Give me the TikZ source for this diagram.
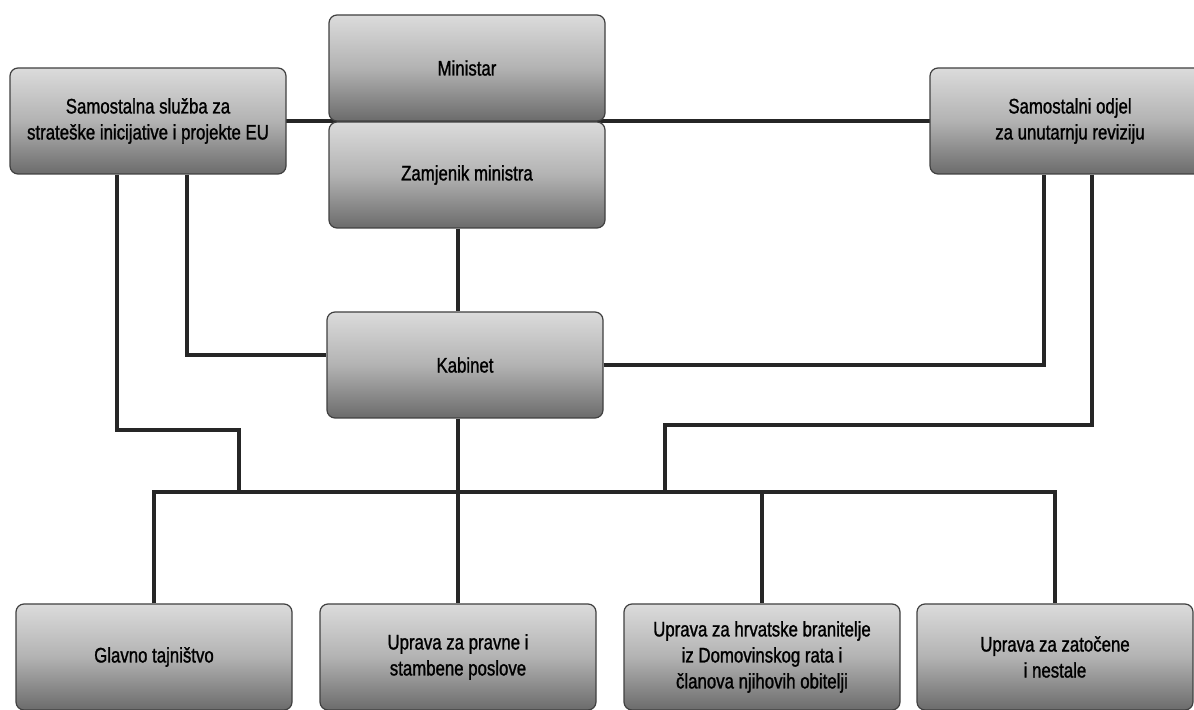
\documentclass[tikz,border=0pt]{standalone}
\usepackage{fontspec}
\setmainfont{Liberation Sans}[FakeStretch=0.8,FakeBold=1.2]
\begin{document}
\begin{tikzpicture}[ x=0.5pt, y=-0.5pt,
      box/.style={draw=black!75,line width=0.6pt,rounded corners=4pt,
        top color=black!14,bottom color=black!58,middle color=black!30,
        minimum width=138pt,minimum height=53pt,align=center,
        font=\fontsize{10.5}{13}\selectfont},
      link/.style={line width=2pt,draw=black!85} ]
      \useasboundingbox (0,0) rectangle (1194,710);
      \clip (0,0) rectangle (1194,710);

      % bends
      \coordinate (bus) at (0,492);
      \coordinate (k1) at (239,430);
      \coordinate (k2) at (665,425);

      % lines under the boxes
      \draw [link] (148,121) -- (1070,121);

      % boxes
      \node[box] (sam) at (148,121) {Samostalna služba za\\strateške inicijative i projekte EU};
      \node[box] (min) at (467,68) {Ministar};
      \node[box] (zam) at (467,175) {Zamjenik ministra};
      \node[box,minimum width=140pt] (odj) at (1070,121) {Samostalni odjel\\za unutarnju reviziju};
      \node[box] (kab) at (465,365) {Kabinet};

      \node[box] (gla) at (154,657) {Glavno tajništvo};
      \node[box] (pra) at (458,657) {Uprava za pravne i\\stambene poslove};
      \node[box] (hrv) at (762,657) {Uprava za hrvatske branitelje\\iz Domovinskog rata i\\članova njihovih obitelji};
      \node[box] (zat) at (1055,657) {Uprava za zatočene\\i nestale};

      % lines
      \draw [link] (zam.south -| pra.north) -- (kab.north -| pra.north);
      \draw [link] (kab.south -| pra.north) -- (pra.north);
      \draw [link] (gla.north) -- (gla.north |- bus) -- (zat.north |- bus) -- (zat.north);
      \draw [link] (hrv.north |- bus) -- (hrv.north);

      \draw [link] ([xshift=54pt]sam.south west) |- (k1) -- (k1 |- bus);
      \draw [link] ([xshift=89pt]sam.south west) |- ([yshift=5pt]kab.west);

      \draw [link] (kab.east) -| ([xshift=57.5pt]odj.south west);
      \draw [link] ([xshift=81.5pt]odj.south west) |- (k2) -- (k2 |- bus);
    \end{tikzpicture}
\end{document}
